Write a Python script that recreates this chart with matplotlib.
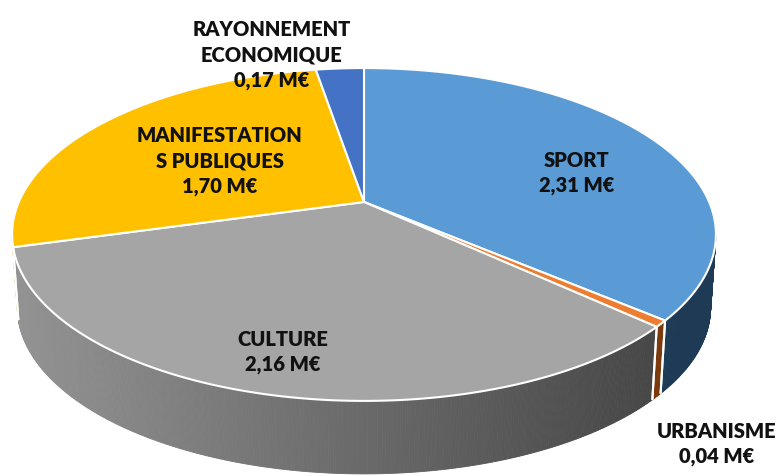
import numpy as np
import matplotlib.pyplot as plt
from matplotlib.patches import Polygon
from matplotlib.colors import to_rgb

# data (M€), clockwise from 12 o'clock
categories = ["SPORT", "URBANISME", "CULTURE", "MANIFESTATION\nS PUBLIQUES", "RAYONNEMENT\nECONOMIQUE"]
values = [2.31, 0.04, 2.16, 1.70, 0.17]
top_colors = ["#5B9BD5", "#ED7D31", "#A5A5A5", "#FFC000", "#4472C4"]
wall_light = ["#24425f", "#86400f", "#939393", "#bf8f00", "#2f528f"]
wall_dark = ["#1e3a55", "#7a380c", "#3f3f3f", "#bf8f00", "#2f528f"]
label_pos = [(577, 173), (717, 444), (283, 352), (220, 161), (272, 55)]

# perspective geometry of the 3D pie (pixel space)
cx, cy = 364, 203
S = 1567
D = 4.54
sin_e = 0.4638
cos_e = np.sqrt(1 - sin_e ** 2)
h = 73
bottom_shrink = 0.985


def proj(theta):
    t = np.radians(theta)
    X, Y = np.sin(t), np.cos(t)
    depth = D + Y * cos_e
    return cx + S * X / depth, cy - S * Y * sin_e / depth


def shade(c1, c2, x):
    t = np.clip((x - 13) / (717 - 13), 0, 1)
    a, b = np.array(to_rgb(c1)), np.array(to_rgb(c2))
    return a + (b - a) * t


fig = plt.figure(figsize=(7.81, 4.77), dpi=100)
ax = fig.add_axes([0, 0, 1, 1])
ax.set_xlim(0, 781)
ax.set_ylim(477, 0)
ax.axis("off")

total = sum(values)
bounds = np.concatenate([[0], np.cumsum(values) / total * 360])
limb = np.degrees(np.arccos(-cos_e / D))

# side walls (front half only)
for i in range(len(values)):
    a0, a1 = max(bounds[i], limb), min(bounds[i + 1], 360 - limb)
    if a1 <= a0:
        continue
    th = np.linspace(a0, a1, max(2, int((a1 - a0) * 3)))
    xs, ys = proj(th)
    xb = cx + (xs - cx) * bottom_shrink
    yb = ys + h
    for k in range(len(th) - 1):
        quad = [(xs[k], ys[k]), (xs[k + 1], ys[k + 1]),
                (xb[k + 1], yb[k + 1]), (xb[k], yb[k])]
        col = shade(wall_light[i], wall_dark[i], (xs[k] + xs[k + 1]) / 2)
        ax.add_patch(Polygon(quad, closed=True, facecolor=col, edgecolor=col, lw=0.6))
    for a in (bounds[i], bounds[i + 1]):
        if limb < a < 360 - limb:
            x, y = proj(a)
            ax.plot([x, cx + (x - cx) * bottom_shrink], [y, y + h], color="white",
                    lw=1.5, solid_capstyle="butt")

# top faces
for i in range(len(values)):
    th = np.linspace(bounds[i], bounds[i + 1], max(3, int((bounds[i + 1] - bounds[i]) * 3)))
    xs, ys = proj(th)
    pts = [(cx, cy)] + list(zip(xs, ys))
    ax.add_patch(Polygon(pts, closed=True, facecolor=top_colors[i], edgecolor="white",
                         lw=1.5, joinstyle="round"))

# labels
for i, cat in enumerate(categories):
    txt = cat + "\n" + f"{values[i]:.2f}".replace(".", ",") + " M€"
    ax.text(label_pos[i][0], label_pos[i][1], txt, ha="center", va="center",
            fontsize=14.5, fontweight="heavy", family=["Lato", "DejaVu Sans"],
            linespacing=1.38, color="#111111")

fig.savefig("out.png", dpi=100)
